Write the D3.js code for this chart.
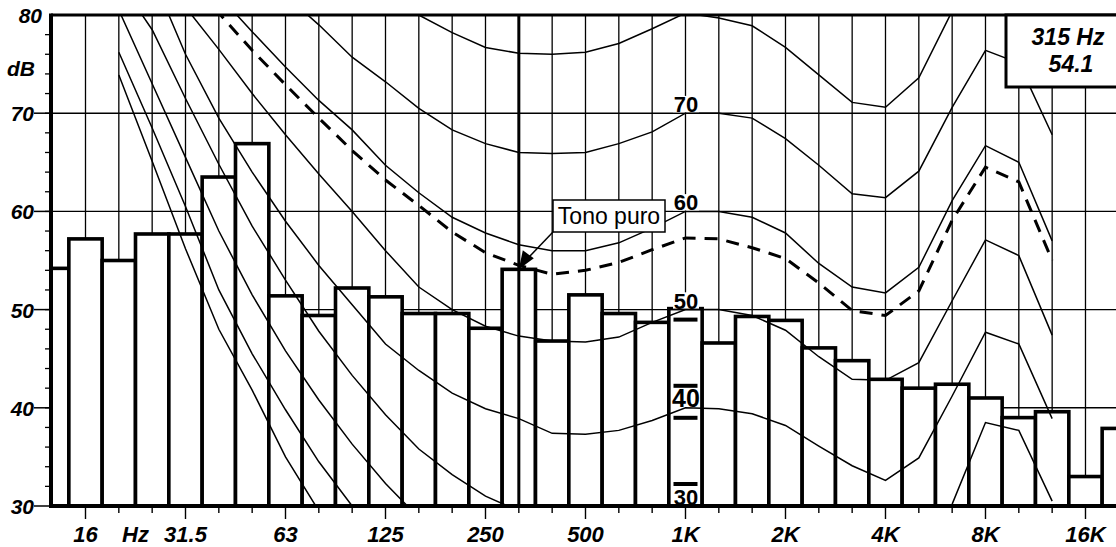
<!DOCTYPE html>
<html>
<head>
<meta charset="utf-8">
<script src="https://cdn.jsdelivr.net/npm/d3@7"></script>
<style>
  html, body { margin: 0; padding: 0; background: #fff; }
  svg { display: block; }
  text { font-family: "Liberation Sans", Arial, sans-serif; fill: #000; }
</style>
</head>
<body>
<svg id="chart" width="1116" height="547"></svg>
<script>
// One-third-octave bands shown on the analyser display
const bands = ["12.5","16","20","25","31.5","40","50","63","80","100","125","160","200","250","315","400","500","630","800","1K","1.25K","1.6K","2K","2.5K","3.15K","4K","5K","6.3K","8K","10K","12.5K","16K","20K"];

// Measured band levels, dB
const levels = [54.2,57.2,55.0,57.7,57.7,63.5,66.9,51.4,49.4,52.2,51.3,49.6,49.6,48.1,54.1,46.8,51.5,49.6,48.7,50.1,46.6,49.3,48.9,46.1,44.8,42.9,42.0,42.4,41.0,39.0,39.6,33.0,37.9];

// Equal-loudness contours, 20 Hz .. 12.5 kHz (null = not drawn)
const contourBands = bands.slice(2, 31);
const phon80 = [null,null,null,null,null,null,null,null,82.5,80.0,78.2,76.7,76.1,76.0,76.2,77.1,78.6,80.2,79.7,78.9,76.7,73.9,71.1,70.6,73.6,80.4,86.0,null,null];
const phon70 = [null,null,null,null,null,82.0,79.0,75.7,73.2,70.5,68.3,66.9,66.0,65.9,66.0,66.9,68.1,70.0,70.0,69.5,67.4,64.7,61.8,61.4,64.1,70.6,76.4,75.1,67.8];
const phon60 = [null,null,null,82.0,78.3,74.7,71.3,68.3,64.7,61.9,59.4,57.8,56.6,56.0,56.0,56.8,58.3,60.0,60.0,59.4,57.8,54.7,52.3,51.7,54.3,61.1,66.7,65.0,57.0];
const phon50 = [null,null,80.8,76.5,72.0,67.8,63.8,60.0,56.0,52.3,50.0,48.3,47.3,46.8,46.7,47.2,48.7,50.0,50.0,49.4,47.9,45.2,42.9,42.8,44.6,50.9,57.1,55.5,47.4];
const phon40 = [null,84.0,76.0,69.5,64.0,59.0,54.5,50.5,46.5,43.8,41.5,39.9,38.9,37.4,37.3,37.7,38.7,40.0,39.9,39.4,38.2,36.1,34.1,32.6,34.9,41.2,47.7,46.5,38.9];
const phon30 = [83.5,78.5,71.5,64.8,58.5,53.0,47.8,43.3,39.3,35.8,33.2,31.0,29.5,28.5,28.3,28.6,29.2,30.0,30.0,29.5,28.3,26.5,24.5,23.0,25.0,30.2,38.5,37.7,30.5];
const phon20 = [80.5,73.0,65.5,58.0,51.5,45.8,40.8,36.3,32.3,28.8,null,null,null,null,null,null,null,null,null,null,null,null,null,null,null,null,null,null,null];
const phon10 = [76.2,68.5,60.5,52.0,45.5,39.8,34.5,30.0,26.0,null,null,null,null,null,null,null,null,null,null,null,null,null,null,null,null,null,null,null,null];
const phon0  = [73.9,65.1,56.2,48.0,41.8,35.0,29.5,25.0,null,null,null,null,null,null,null,null,null,null,null,null,null,null,null,null,null,null,null,null,null];
// Loudness contour of the pure tone (dashed)
const toneContour = [null,null,84.0,80.2,76.4,72.9,69.5,66.2,63.2,60.6,57.9,55.8,54.5,53.6,54.0,54.8,56.1,57.3,57.2,56.3,55.2,52.7,49.9,49.4,51.9,59.1,64.5,63.0,55.0];

const contourLabels = [70, 60, 50, 40, 30];

// Axis labels
const xTickBands = ["16","31.5","63","125","250","500","1K","2K","4K","8K","16K"];
const xTickText  = ["16","31.5","63","125","250","500","1K","2K","4K","8K","16K"];
const yTicks = [30, 40, 50, 60, 70, 80];

const cursorBand = "315";
const cursorText = ["315 Hz", "54.1"];
const calloutText = "Tono puro";

// ---------------------------------------------------------------
const svg = d3.select("#chart");
const plotL = 51, plotT = 15, plotB = 506, plotR = 1116;

const x = d3.scaleBand().domain(bands).range([35.5, 35.5 + bands.length * 33.333]).padding(0);
const cx = b => x(b) + x.bandwidth() / 2;
const y = d3.scaleLinear().domain([30, 80]).range([plotB, plotT]);

svg.append("defs").append("clipPath").attr("id", "plot")
  .append("rect").attr("x", plotL).attr("y", plotT).attr("width", plotR - plotL).attr("height", plotB - plotT);

const plot = svg.append("g").attr("clip-path", "url(#plot)");

// grid
plot.append("g").selectAll("line").data([40, 50, 60, 70]).join("line")
  .attr("x1", plotL).attr("x2", plotR).attr("y1", d => y(d)).attr("y2", d => y(d))
  .attr("stroke", "#000").attr("stroke-width", 1.4);
plot.append("g").selectAll("line").data(bands.slice(1)).join("line")
  .attr("x1", d => cx(d)).attr("x2", d => cx(d)).attr("y1", plotT).attr("y2", plotB)
  .attr("stroke", "#000").attr("stroke-width", 1.3);

// band bars
plot.append("g").selectAll("rect").data(bands).join("rect")
  .attr("x", d => x(d)).attr("width", x.bandwidth())
  .attr("y", (d, i) => y(levels[i])).attr("height", (d, i) => y(30) - y(levels[i]))
  .attr("fill", "#fff").attr("stroke", "#000").attr("stroke-width", 3.6);

// contours
const line = d3.line().defined(d => d[1] != null).x(d => cx(d[0])).y(d => y(d[1]));
const solid = [phon80, phon70, phon60, phon50, phon40, phon30, phon20, phon10, phon0];
plot.append("g").selectAll("path").data(solid).join("path")
  .attr("d", s => line(contourBands.map((b, i) => [b, s[i]])))
  .attr("fill", "none").attr("stroke", "#000").attr("stroke-width", 1.5);
plot.append("path")
  .attr("d", line(contourBands.map((b, i) => [b, toneContour[i]])))
  .attr("fill", "none").attr("stroke", "#000").attr("stroke-width", 3)
  .attr("stroke-dasharray", "13 9");

// cursor
plot.append("line").attr("x1", cx(cursorBand)).attr("x2", cx(cursorBand))
  .attr("y1", plotT).attr("y2", plotB).attr("stroke", "#000").attr("stroke-width", 3);

// contour labels at 1 kHz
const lab = svg.append("g");
contourLabels.forEach(v => {
  const px = cx("1K") + 0.5, py = y(v) - 1;
  const fs = v === 40 ? 25 : 22;
  lab.append("rect").attr("x", px - 13).attr("y", py - fs * 0.74).attr("width", 26).attr("height", fs * 0.74)
    .attr("fill", "#fff");
  lab.append("text").attr("x", px).attr("y", py).attr("text-anchor", "middle")
    .attr("font-size", fs).attr("font-weight", "bold").text(v);
});
// heavy rules bordering the lower labels
[[50, 8, 4], [40, -24, 4], [40, 8, 4], [30, -24, 4]].forEach(([v, dy, h]) => {
  lab.append("rect").attr("x", cx("1K") - 12).attr("y", y(v) + dy).attr("width", 24).attr("height", h)
    .attr("fill", "#000");
});

// axes
svg.append("line").attr("x1", plotL).attr("x2", plotR).attr("y1", plotT).attr("y2", plotT)
  .attr("stroke", "#000").attr("stroke-width", 3);
svg.append("line").attr("x1", plotL).attr("x2", plotL).attr("y1", plotT - 1.5).attr("y2", plotB + 2)
  .attr("stroke", "#000").attr("stroke-width", 4);
svg.append("line").attr("x1", plotL - 2).attr("x2", plotR).attr("y1", plotB).attr("y2", plotB)
  .attr("stroke", "#000").attr("stroke-width", 4);

// y ticks
svg.append("g").selectAll("line").data(d3.range(32, 80, 2)).join("line")
  .attr("x1", 45).attr("x2", plotL).attr("y1", d => y(d)).attr("y2", d => y(d))
  .attr("stroke", "#000").attr("stroke-width", 1.3);
svg.append("g").selectAll("line").data(yTicks.filter(d => d < 80)).join("line")
  .attr("x1", 34).attr("x2", plotL).attr("y1", d => y(d)).attr("y2", d => y(d))
  .attr("stroke", "#000").attr("stroke-width", 1.5);
svg.append("g").selectAll("text").data(yTicks).join("text")
  .attr("x", d => d === 80 ? 42 : 34).attr("y", d => y(d) + 8)
  .attr("text-anchor", "end").attr("font-size", 21).attr("font-weight", "bold").attr("font-style", "italic")
  .text(d => d);
svg.append("text").attr("x", 35).attr("y", 76).attr("text-anchor", "end")
  .attr("font-size", 21).attr("font-weight", "bold").attr("font-style", "italic").text("dB");

// x ticks
svg.append("g").selectAll("line").data(bands.slice(1)).join("line")
  .attr("x1", d => cx(d)).attr("x2", d => cx(d)).attr("y1", plotB)
  .attr("y2", d => xTickBands.includes(d) ? plotB + 13 : plotB + 7)
  .attr("stroke", "#000").attr("stroke-width", 1.4);
svg.append("g").selectAll("text").data(xTickBands).join("text")
  .attr("x", d => cx(d)).attr("y", 542).attr("text-anchor", "middle")
  .attr("font-size", 22).attr("font-weight", "bold").attr("font-style", "italic")
  .text((d, i) => xTickText[i]);
svg.append("text").attr("x", (cx("20") + cx("25")) / 2).attr("y", 542).attr("text-anchor", "middle")
  .attr("font-size", 22).attr("font-weight", "bold").attr("font-style", "italic").text("Hz");

// cursor readout
svg.append("rect").attr("x", 1006).attr("y", plotT).attr("width", 116).attr("height", 72)
  .attr("fill", "#fff").attr("stroke", "#000").attr("stroke-width", 3);
svg.append("text").attr("x", 1068).attr("y", 45).attr("text-anchor", "middle")
  .attr("font-size", 23).attr("font-weight", "bold").attr("font-style", "italic").text(cursorText[0]);
svg.append("text").attr("x", 1071).attr("y", 72).attr("text-anchor", "middle")
  .attr("font-size", 23).attr("font-weight", "bold").attr("font-style", "italic").text(cursorText[1]);

// pure-tone callout
const tipX = cx(cursorBand), tipY = y(levels[bands.indexOf(cursorBand)]);
svg.append("line").attr("x1", 553).attr("y1", 232).attr("x2", tipX + 8).attr("y2", tipY - 10)
  .attr("stroke", "#000").attr("stroke-width", 1.5);
svg.append("path")
  .attr("d", `M${tipX},${tipY} L${tipX + 4},${tipY - 19} L${tipX + 15},${tipY - 11} Z`)
  .attr("fill", "#000");
svg.append("rect").attr("x", 553).attr("y", 200).attr("width", 112).attr("height", 32)
  .attr("fill", "#fff").attr("stroke", "#000").attr("stroke-width", 1.5);
svg.append("text").attr("x", 609).attr("y", 224).attr("text-anchor", "middle")
  .attr("font-size", 23).text(calloutText);
</script>
</body>
</html>
